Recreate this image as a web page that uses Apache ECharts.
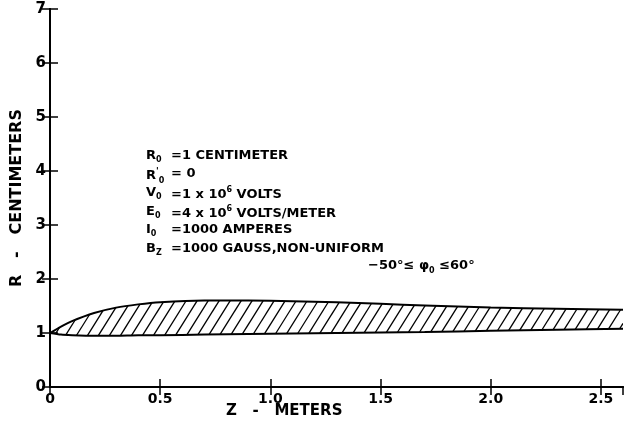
<!DOCTYPE html>
<html><head><meta charset="utf-8">
<script src="https://cdn.jsdelivr.net/npm/echarts@6/dist/echarts.min.js"></script>
<style>html,body{margin:0;padding:0;background:#fff}#c{width:625px;height:437px}</style>
</head><body><div id="c"></div>
<script>
// Data
const zValues     = [0, 0.05, 0.1, 0.2, 0.3, 0.4, 0.5, 0.7, 0.9, 1.1, 1.3, 1.5, 1.7, 2.0, 2.3, 2.6];
const upperR      = [1.0, 1.12, 1.22, 1.37, 1.47, 1.53, 1.57, 1.60, 1.60, 1.59, 1.57, 1.54, 1.51, 1.47, 1.45, 1.43];
const lowerR      = [1.0, 0.97, 0.96, 0.95, 0.95, 0.96, 0.96, 0.97, 0.98, 0.99, 1.0, 1.01, 1.02, 1.04, 1.06, 1.08];
const xTicks      = [0, 0.5, 1.0, 1.5, 2.0, 2.5];
const yTicks      = [0, 1, 2, 3, 4, 5, 6, 7];
const paramRows = [
  ['{m|R}{s|0}', '{m|=1 CENTIMETER}'],
  ["{m|R}{p|'}{s|0}", '{m|= 0}'],
  ['{m|V}{s|0}', '{m|=1 x 10}{u|6}{m| VOLTS}'],
  ['{m|E}{s|0}', '{m|=4 x 10}{u|6}{m| VOLTS/METER}'],
  ['{m|I}{s|0}', '{m|=1000 AMPERES}'],
  ['{m|B}{s|Z}', '{m|=1000 GAUSS,NON-UNIFORM}']
];
const phiLabel = '{m|−50°≤ φ}{s|0}{m| ≤60°}';

const FONT = 'DejaVu Sans';
const chart = echarts.init(document.getElementById('c'), null, {renderer: 'canvas'});

const upperData = zValues.map((z, i) => [z, upperR[i]]);
const lowerData = zValues.map((z, i) => [z, lowerR[i]]);

const rich = {
  m: {fontFamily: FONT, fontWeight: 'bold', fontSize: 13, lineHeight: 17, color: '#000'},
  s: {fontFamily: FONT, fontWeight: 'bold', fontSize: 8, verticalAlign: 'bottom', color: '#000'},
  u: {fontFamily: FONT, fontWeight: 'bold', fontSize: 8, verticalAlign: 'top', color: '#000'},
  p: {fontFamily: FONT, fontWeight: 'bold', fontSize: 9, verticalAlign: 'top', color: '#000'}
};

const graphics = [];
paramRows.forEach((r, i) => {
  const y = 157 + i * 18.6;
  graphics.push({type: 'text', left: 146, top: y - 8, style: {text: r[0], rich: rich}});
  graphics.push({type: 'text', left: 171, top: y - 8, style: {text: r[1], rich: rich}});
});
graphics.push({type: 'text', left: 368, top: 259, style: {text: phiLabel, rich: {
  m: {fontFamily: FONT, fontWeight: 'bold', fontSize: 13, lineHeight: 18, color: '#000'},
  s: {fontFamily: FONT, fontWeight: 'bold', fontSize: 8, verticalAlign: 'bottom', color: '#000'}
}}});
graphics.push({type: 'text', left: 226, top: 404, style: {text: 'Z   -   METERS', font: 'bold 15px ' + FONT, fill: '#000'}});

const axisCommon = {
  axisLine: {show: true, lineStyle: {color: '#000', width: 2}},
  axisTick: {show: true, inside: true, length: 8, lineStyle: {color: '#000', width: 1.5}},
  splitLine: {show: false}
};

// Hatching: diagonal strokes clipped between the two curves (pixel space)
function interpY(pts, x) {
  if (x <= pts[0][0]) return pts[0][1];
  for (let i = 1; i < pts.length; i++) {
    if (x <= pts[i][0]) {
      const t = (x - pts[i - 1][0]) / (pts[i][0] - pts[i - 1][0]);
      return pts[i - 1][1] + t * (pts[i][1] - pts[i - 1][1]);
    }
  }
  return pts[pts.length - 1][1];
}
function hatchRender(params, api) {
  if (params.dataIndex !== 0) return;
  const up = zValues.map((z, i) => api.coord([z, upperR[i]]));
  const lo = zValues.map((z, i) => api.coord([z, lowerR[i]]));
  const x0 = up[0][0], x1 = up[up.length - 1][0];
  const yRef = lo[0][1];
  const slope = 1.6, step = 11;
  const hit = (pts, c) => {
    let x = c;
    for (let k = 0; k < 12; k++) x = c + (yRef - interpY(pts, x)) / slope;
    return x;
  };
  const children = [];
  for (let c = x0 - 60; c < x1 + 30; c += step) {
    let xa = hit(lo, c), xb = hit(up, c);
    if (xa < x0) xa = x0;
    if (xb > x1) xb = x1;
    if (xb <= xa + 0.5) continue;
    const ya = yRef - slope * (xa - c), yb = yRef - slope * (xb - c);
    const yLo = interpY(lo, xa), yUp = interpY(up, xb);
    if (ya > yLo + 0.5 || yb < yUp - 0.5) continue;
    children.push({type: 'line', shape: {x1: xa, y1: ya, x2: xb, y2: yb},
      style: {stroke: '#000', lineWidth: 1.3}});
  }
  return {type: 'group', children: children};
}

chart.setOption({
  animation: false,
  backgroundColor: '#fff',
  grid: {left: 50, right: 2, top: 9, bottom: 50},
  xAxis: [
    Object.assign({type: 'value', min: 0, max: 2.6, interval: 0.5,
      axisLabel: {show: true, margin: 5, color: '#000', fontFamily: FONT, fontWeight: 'bold', fontSize: 14,
        showMaxLabel: false,
        formatter: v => xTicks.includes(+v.toFixed(1)) ? (v === 0 ? '0' : v.toFixed(1)) : ''}}, axisCommon),
    Object.assign({type: 'value', position: 'top', min: 0, max: 2.6, interval: 0.5, axisLabel: {show: false}}, axisCommon)
  ],
  yAxis: [
    Object.assign({type: 'value', min: 0, max: 7, interval: 1,
      name: 'R   -   CENTIMETERS', nameLocation: 'middle', nameRotate: 90, nameGap: 24,
      nameTextStyle: {color: '#000', fontFamily: FONT, fontWeight: 'bold', fontSize: 16},
      axisLabel: {show: true, margin: 4, color: '#000', fontFamily: FONT, fontWeight: 'bold', fontSize: 15,
        formatter: v => yTicks.includes(v) ? String(v) : ''}}, axisCommon),
    Object.assign({type: 'value', position: 'right', min: 0, max: 7, interval: 1, axisLabel: {show: false}}, axisCommon)
  ],
  graphic: graphics,
  series: [
    {type: 'custom', renderItem: hatchRender, data: [[0, 0]], clip: true, z: 1, silent: true},
    {type: 'line', data: upperData, smooth: 0.25, symbol: 'none',
      lineStyle: {color: '#000', width: 2}, z: 3},
    {type: 'line', data: lowerData, smooth: 0.25, symbol: 'none',
      lineStyle: {color: '#000', width: 2}, z: 3}
  ]
});
</script></body></html>
